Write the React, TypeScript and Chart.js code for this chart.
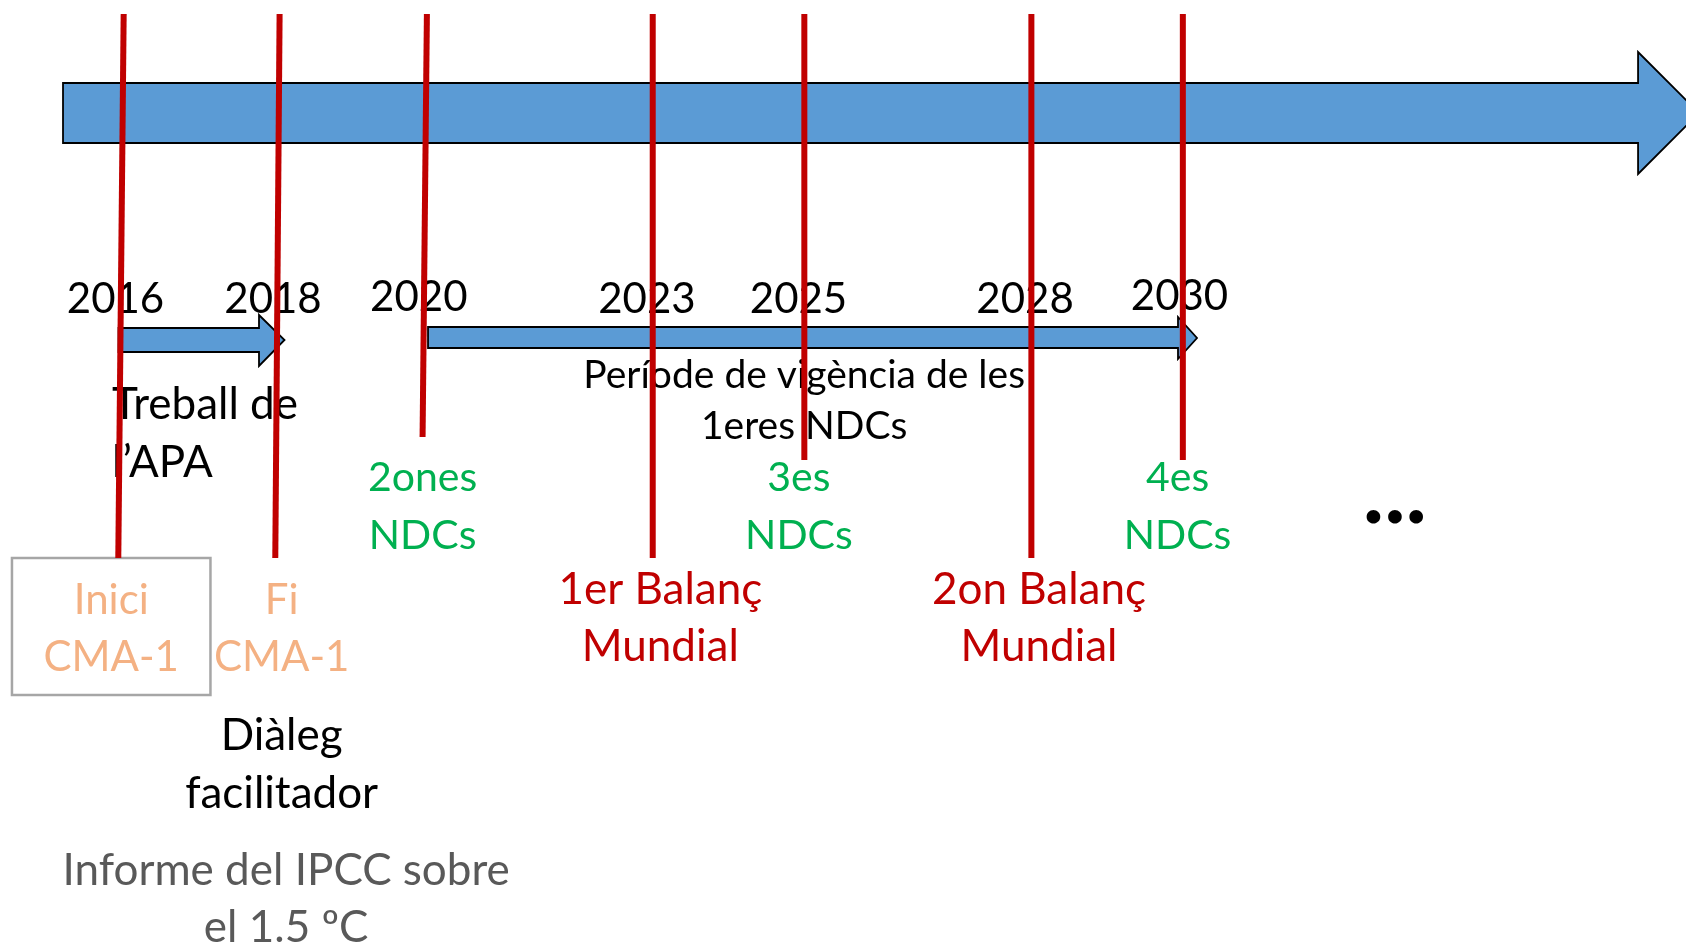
import React, { useEffect, useRef } from 'react';
import { Chart, registerables } from 'chart.js';

Chart.register(...registerables);

const W = 1686;
const H = 946;
// x axis is measured in years; y axis is a vertical layout scale (0 top .. 946 bottom)
const X_MIN = 2014.381;
const X_MAX = 2036.644;

// Red milestone lines
const markerYears = [2016, 2018, 2020, 2023, 2025, 2028, 2030];
const markerTopX = [2016.014, 2018.073, 2020.018, 2023.0, 2025.002, 2028.0, 2030.0];
const markerBottomX = [2015.943, 2018.016, 2019.961, 2023.0, 2025.002, 2028.0, 2030.0];
const markerTopY = [14, 14, 14, 14, 14, 14, 14];
const markerBottomY = [558, 558, 437, 558, 460, 558, 460];

// Year tick labels
const yearLabels = ['2016', '2018', '2020', '2023', '2025', '2028', '2030'];
const yearLabelX = [2015.906, 2017.986, 2019.911, 2022.924, 2024.925, 2027.916, 2029.956];
const yearLabelY = [313, 313, 311, 313, 313, 313, 310];

// Arrows: [start, head start, tip] in years; [bodyTop, bodyBottom, headTop, headBottom, tipY]
const arrowNames = ['timeline', 'apa', 'ndc1'];
const arrowX = [
  [2015.213, 2036.011, 2036.816],
  [2015.946, 2017.801, 2018.138],
  [2020.033, 2029.936, 2030.187],
];
const arrowY = [
  [83, 143, 52, 174, 113],
  [328, 352, 315, 366, 340],
  [327, 348, 317, 359, 338],
];

// Text annotations
const noteLines = [
  ['Treball de', 'l’APA'],
  ['Període de vigència de les', '1eres NDCs'],
  ['2ones', 'NDCs'],
  ['3es', 'NDCs'],
  ['4es', 'NDCs'],
  ['1er Balanç', 'Mundial'],
  ['2on Balanç', 'Mundial'],
  ['Inici', 'CMA-1'],
  ['Fi', 'CMA-1'],
  ['Diàleg', 'facilitador'],
  ['Informe del IPCC sobre', 'el 1.5 ºC'],
];
const noteX = [2015.860, 2025.0, 2019.961, 2024.93, 2029.93, 2023.10, 2028.10, 2015.85, 2018.10, 2018.10, 2018.16];
const noteAlign = ['left', 'center', 'center', 'center', 'center', 'center', 'center', 'center', 'center', 'center', 'center'];
const noteBaseY = [
  [419, 477],
  [388, 439],
  [491, 549],
  [491, 549],
  [491, 549],
  [604, 661],
  [604, 661],
  [614, 671],
  [614, 671],
  [750, 808],
  [885, 942],
];
const noteColor = ['#000000', '#000000', '#00B050', '#00B050', '#00B050', '#C00000', '#C00000', '#F4B183', '#F4B183', '#000000', '#595959'];
const noteSize = [44, 39, 41, 41, 41, 44, 44, 42, 42, 44, 44];

// Box around "Inici CMA-1"
const boxX = [2014.539, 2017.160];
const boxY = [558, 695];

// Ellipsis
const ellipsisX = 2032.80;
const ellipsisY = 523;

const FONT = 'Lato, "Open Sans", "Noto Sans", sans-serif';

const diagramPlugin = {
  id: 'diagram',
  beforeDatasetsDraw(chart: any) {
    const ctx = chart.ctx;
    const xs = chart.scales.x;
    const ys = chart.scales.y;
    const px = (v: number) => xs.getPixelForValue(v);
    const py = (v: number) => ys.getPixelForValue(v);
    ctx.save();
    // arrows
    arrowNames.forEach((_, i) => {
      const [x0, x1, x2] = arrowX[i];
      const [bt, bb, ht, hb, ty] = arrowY[i];
      ctx.beginPath();
      ctx.moveTo(px(x0), py(bt));
      ctx.lineTo(px(x1), py(bt));
      ctx.lineTo(px(x1), py(ht));
      ctx.lineTo(px(x2), py(ty));
      ctx.lineTo(px(x1), py(hb));
      ctx.lineTo(px(x1), py(bb));
      ctx.lineTo(px(x0), py(bb));
      ctx.closePath();
      ctx.fillStyle = '#5B9BD5';
      ctx.fill();
      ctx.lineWidth = 1.8;
      ctx.strokeStyle = '#000000';
      ctx.lineJoin = 'miter';
      ctx.stroke();
    });
    // box
    ctx.lineWidth = 2.5;
    ctx.strokeStyle = '#A6A6A6';
    ctx.strokeRect(px(boxX[0]), py(boxY[0]), px(boxX[1]) - px(boxX[0]), py(boxY[1]) - py(boxY[0]));
    // year labels
    ctx.textBaseline = 'alphabetic';
    ctx.textAlign = 'center';
    ctx.fillStyle = '#000000';
    ctx.font = `42px ${FONT}`;
    yearLabels.forEach((t, i) => {
      ctx.fillText(t, px(yearLabelX[i]), py(yearLabelY[i]));
    });
    // notes
    noteLines.forEach((lines, i) => {
      ctx.font = `${noteSize[i]}px ${FONT}`;
      ctx.fillStyle = noteColor[i];
      ctx.textAlign = noteAlign[i];
      lines.forEach((t, j) => {
        ctx.fillText(t, px(noteX[i]), py(noteBaseY[i][j]));
      });
    });
    // ellipsis
    ctx.font = `bold 90px ${FONT}`;
    ctx.fillStyle = '#000000';
    ctx.textAlign = 'center';
    ctx.fillText('...', px(ellipsisX), py(ellipsisY));
    ctx.restore();
  },
};

export default function App() {
  const ref = useRef<HTMLCanvasElement | null>(null);
  useEffect(() => {
    if (!ref.current) return;
    const datasets = markerYears.map((yr, i) => ({
      label: String(yr),
      data: [
        { x: markerTopX[i], y: markerTopY[i] },
        { x: markerBottomX[i], y: markerBottomY[i] },
      ],
      showLine: true,
      borderColor: '#C00000',
      backgroundColor: '#C00000',
      borderWidth: 6,
      pointRadius: 0,
      borderCapStyle: 'butt',
    }));
    const chart = new Chart(ref.current, {
      type: 'scatter',
      data: { datasets },
      options: {
        animation: false,
        responsive: false,
        devicePixelRatio: 1,
        layout: { padding: 0 },
        plugins: { legend: { display: false }, tooltip: { enabled: false } },
        scales: {
          x: { type: 'linear', min: X_MIN, max: X_MAX, display: false },
          y: { type: 'linear', min: 0, max: H, reverse: true, display: false },
        },
      } as any,
      plugins: [diagramPlugin],
    });
    return () => chart.destroy();
  }, []);
  return (
    <div style={{ position: 'fixed', left: 0, top: 0, width: W, height: H, background: '#ffffff' }}>
      <canvas ref={ref} width={W} height={H} style={{ width: W, height: H, display: 'block' }} />
    </div>
  );
}
